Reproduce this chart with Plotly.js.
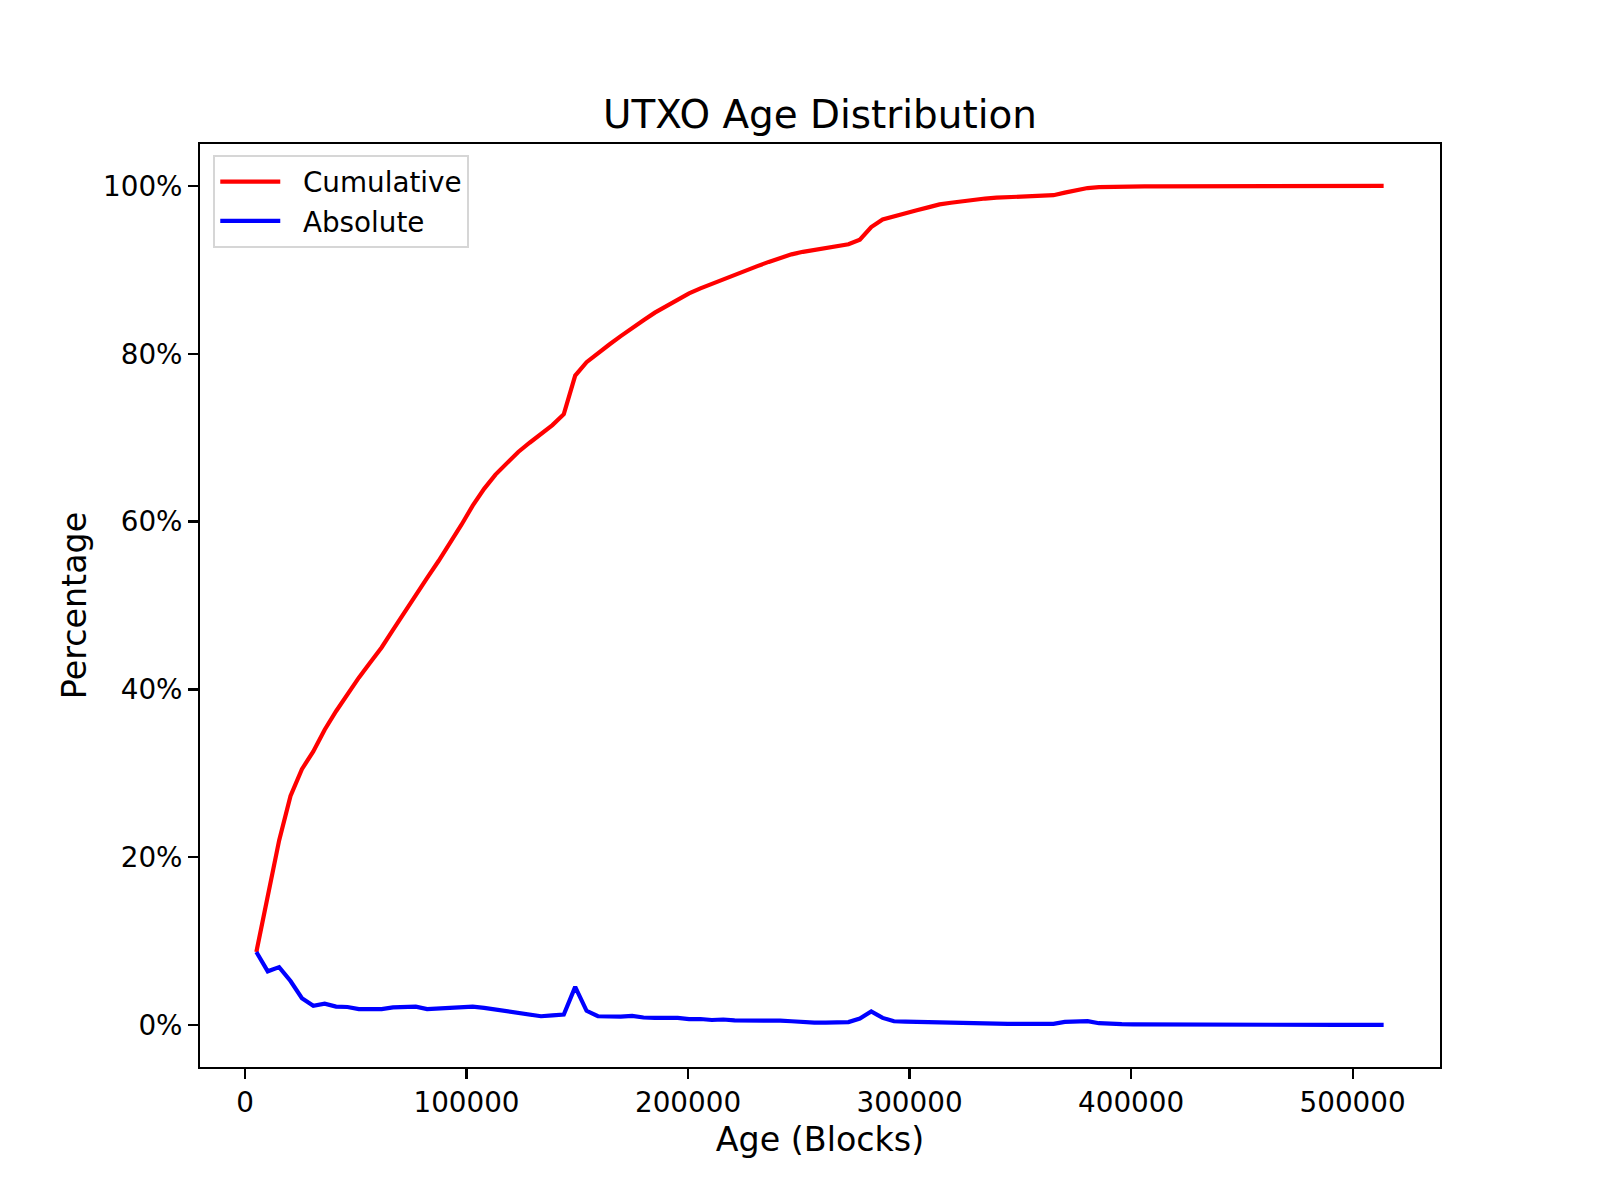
<!DOCTYPE html>
<html>
<head>
<meta charset="utf-8">
<script src="https://cdn.plot.ly/plotly-3.0.1.min.js"></script>
<style>html,body{margin:0;padding:0;background:#fff;}#chart{width:1600px;height:1200px;}</style>
</head>
<body>
<div id="chart"></div>
<script>
// Age in blocks (upper edge of each bin)
var ageBlocks = [5140, 10280, 15420, 20560, 25700, 30840, 35980, 41120, 46260, 51400,
  56540, 61680, 66820, 71960, 77100, 82240, 87380, 92520, 97660, 102800,
  107940, 113080, 118220, 123360, 128500, 133640, 138780, 143920, 149060, 154200,
  159340, 164480, 169620, 174760, 179900, 185040, 190180, 195320, 200460, 205600,
  210740, 215880, 221020, 226160, 231300, 236440, 241580, 246720, 251860, 257000,
  262140, 267280, 272420, 277560, 282700, 287840, 292980, 298120, 303260, 308400,
  313540, 318680, 323820, 328960, 334100, 339240, 344380, 349520, 354660, 359800,
  364940, 370080, 375220, 380360, 385500, 390640, 395780, 400920, 406060, 411200,
  416340, 421480, 426620, 431760, 436900, 442040, 447180, 452320, 457460, 462600,
  467740, 472880, 478020, 483160, 488300, 493440, 498580, 503720, 508860, 514000];

// Cumulative percentage of UTXOs
var cumulativePct = [8.7, 15.1, 22.0, 27.3, 30.5, 32.6, 35.2, 37.4, 39.5, 41.4,
  43.2, 45.0, 47.1, 49.2, 51.4, 53.3, 55.3, 57.4, 59.6, 61.9,
  63.9, 65.6, 67.0, 68.3, 69.4, 70.4, 71.5, 72.8, 77.4, 79.0,
  80.1, 81.1, 82.1, 83.1, 84.0, 84.9, 85.7, 86.5, 87.2, 87.8,
  88.35, 88.9, 89.45, 89.95, 90.45, 90.95, 91.4, 91.85, 92.15, 92.4,
  92.6, 92.8, 93.05, 93.6, 95.1, 96.0, 96.4, 96.75, 97.1, 97.45,
  97.8, 98.0, 98.2, 98.35, 98.5, 98.6, 98.65, 98.7, 98.75, 98.8,
  98.9, 99.2, 99.5, 99.75, 99.85, 99.9, 99.92, 99.94, 99.95, 99.96,
  99.965, 99.97, 99.973, 99.976, 99.979, 99.982, 99.985, 99.987, 99.989, 99.991,
  99.993, 99.994, 99.995, 99.996, 99.997, 99.998, 99.998, 99.999, 99.999, 100.0];

// Absolute percentage of UTXOs per bin
var absolutePct = [8.7, 6.4, 6.9, 5.25, 3.2, 2.3, 2.55, 2.2, 2.15, 1.9,
  1.9, 1.9, 2.1, 2.2, 2.2, 1.9, 2.0, 2.1, 2.15, 2.2,
  2.05, 1.85, 1.55, 1.45, 1.15, 1.05, 1.15, 1.25, 4.55, 1.7,
  1.05, 1.0, 1.0, 1.1, 0.9, 0.85, 0.85, 0.85, 0.7, 0.72,
  0.6, 0.66, 0.56, 0.58, 0.55, 0.57, 0.52, 0.45, 0.33, 0.3,
  0.28, 0.3, 0.35, 0.78, 1.62, 0.85, 0.45, 0.4, 0.38, 0.36,
  0.4, 0.32, 0.3, 0.25, 0.2, 0.18, 0.15, 0.15, 0.15, 0.15,
  0.15, 0.38, 0.4, 0.47, 0.22, 0.12, 0.1, 0.08, 0.07, 0.06,
  0.05, 0.05, 0.04, 0.04, 0.04, 0.03, 0.03, 0.03, 0.03, 0.02,
  0.02, 0.02, 0.02, 0.02, 0.01, 0.01, 0.01, 0.01, 0.01, 0.01];

var seriesNames = ['Cumulative', 'Absolute'];
var xTickVals = [0, 100000, 200000, 300000, 400000, 500000];
var yTickVals = [0, 20, 40, 60, 80, 100];
var yTickText = ['0%', '20%', '40%', '60%', '80%', '100%'];

var FONT = 'DejaVu Sans, Liberation Sans, sans-serif';
var GAP = '\u00a0\u00a0';

var traces = [
  {x: ageBlocks, y: cumulativePct, type: 'scatter', mode: 'lines', name: GAP + seriesNames[0],
   line: {color: '#ff0000', width: 4.2}},
  {x: ageBlocks, y: absolutePct, type: 'scatter', mode: 'lines', name: GAP + seriesNames[1],
   line: {color: '#0000ff', width: 4.2}}
];

var axisCommon = {
  showgrid: false, zeroline: false,
  showline: true, mirror: true, linecolor: '#000', linewidth: 2.2,
  ticks: 'outside', ticklen: 9.7, tickwidth: 2.2, tickcolor: '#000',
  tickfont: {family: FONT, size: 27.8, color: '#000'}
};

var layout = {
  width: 1600, height: 1200,
  paper_bgcolor: '#fff', plot_bgcolor: '#fff',
  margin: {l: 200, r: 160, t: 144, b: 133, pad: 0},
  font: {family: FONT, color: '#000'},
  title: {text: 'UTXO Age Distribution', font: {family: FONT, size: 38.9, color: '#000'},
          x: 0.5125, xref: 'container', xanchor: 'center', y: 0.905, yref: 'container', yanchor: 'middle'},
  xaxis: Object.assign({}, axisCommon, {
    range: [-20303, 539443], tickvals: xTickVals, tickformat: 'd',
    title: {text: 'Age (Blocks)', font: {family: FONT, size: 33.3, color: '#000'}, standoff: 10}
  }),
  yaxis: Object.assign({}, axisCommon, {
    range: [-5, 105], tickvals: yTickVals, ticktext: yTickText,
    title: {text: 'Percentage', font: {family: FONT, size: 33.3, color: '#000'}, standoff: 7}
  }),
  showlegend: true,
  legend: {
    x: 0.0107, y: 0.988, xanchor: 'left', yanchor: 'top',
    bgcolor: 'rgba(255,255,255,0.8)', bordercolor: '#d6d6d6', borderwidth: 2,
    font: {family: FONT, size: 27.8, color: '#000'}, itemwidth: 60
  }
};

Plotly.newPlot('chart', traces, layout, {displayModeBar: false, staticPlot: true});
</script>
</body>
</html>
